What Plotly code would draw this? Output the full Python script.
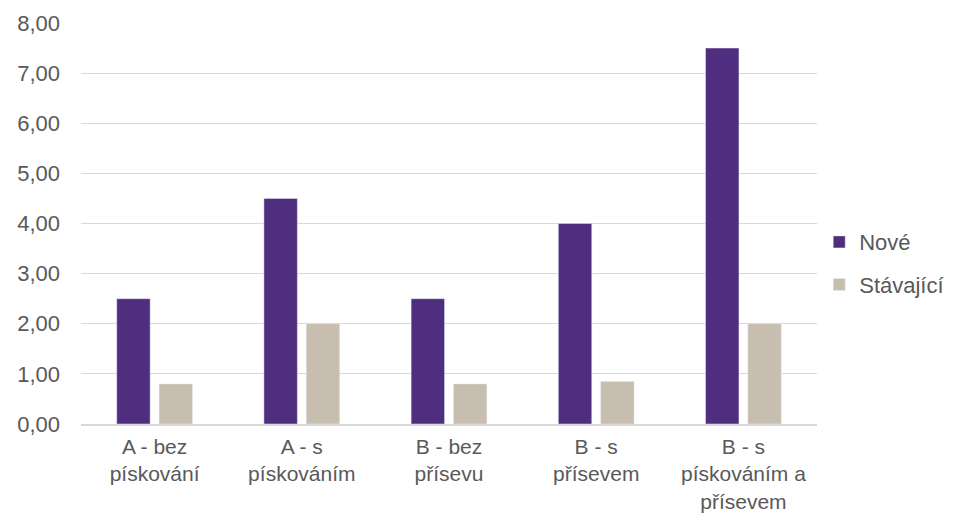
import plotly.graph_objects as go

categories = ["A - bez<br>pískování", "A - s<br>pískováním", "B - bez<br>přísevu",
              "B - s<br>přísevem", "B - s<br>pískováním a<br>přísevem"]
nove = [2.5, 4.5, 2.5, 4.0, 7.5]
stavajici = [0.8, 2.0, 0.8, 0.85, 2.0]

FONT = dict(family="Liberation Sans", size=22, color="#595959")

fig = go.Figure()
fig.add_trace(go.Bar(x=categories, y=nove, name="Nové", marker_color="#4F2D7F",
                     legendgroup="a"))
fig.add_trace(go.Bar(x=categories, y=stavajici, name="Stávající", marker_color="#C8BEAF",
                     legendgroup="b"))

# the page has an 8px body margin, so the figure is 8px smaller each way
fig.update_layout(
    width=957, height=506,
    barmode="group", bargap=0.425, bargroupgap=0.21,
    separators=", ",
    font=FONT,
    plot_bgcolor="white", paper_bgcolor="white",
    margin=dict(l=73, r=148, t=15, b=90),
    legend=dict(x=1.003, y=0.40, xanchor="left", yanchor="middle",
                traceorder="grouped", tracegroupgap=11, itemwidth=30,
                font=FONT),
)
fig.update_yaxes(range=[0, 8], dtick=1, tickformat=".2f", gridcolor="#D9D9D9",
                 gridwidth=1, zeroline=False, ticklabelstandoff=20, showline=False,
                 automargin=False, tickfont=FONT)
fig.update_xaxes(showline=True, linecolor="#D9D9D9", linewidth=1.5,
                 ticklabelstandoff=3, tickangle=0, automargin=False,
                 tickfont=dict(family="Liberation Sans", size=21, color="#595959"))

fig.write_html("out.html")
